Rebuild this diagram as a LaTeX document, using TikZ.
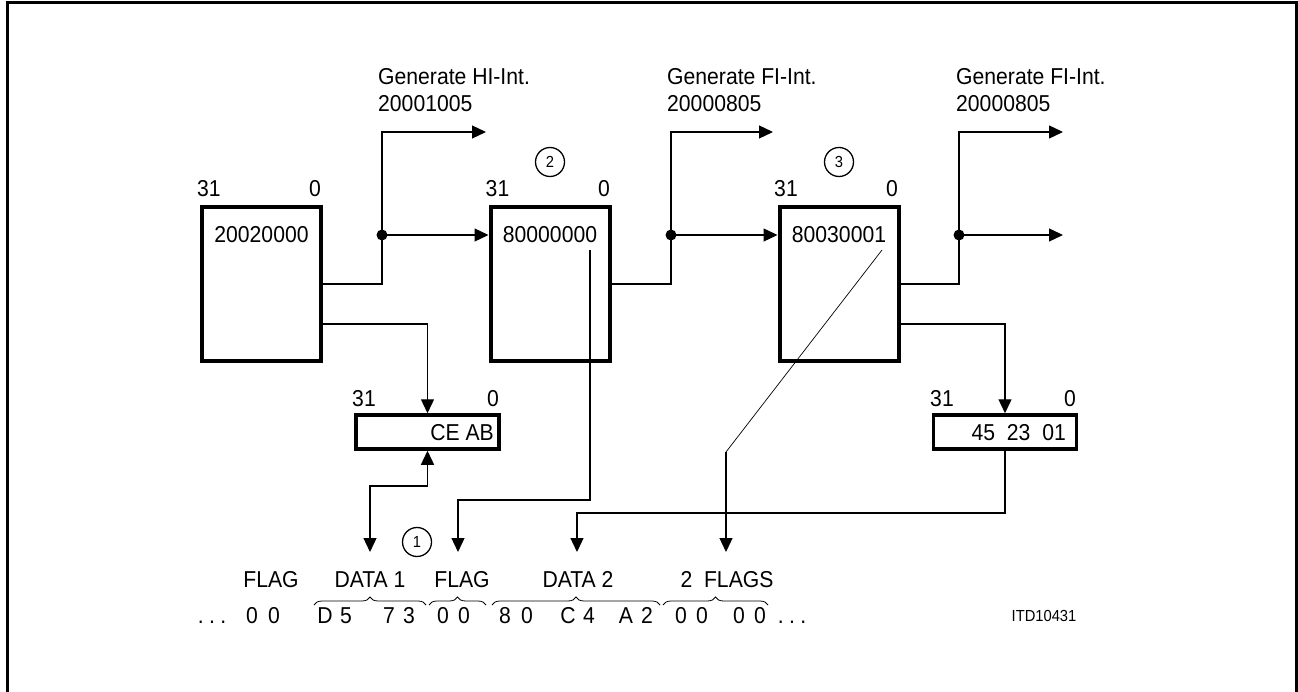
\documentclass[tikz,border=0pt]{standalone}
\usepackage{fontspec}
\newfontfamily\narrowf{Liberation Sans}[FakeStretch=0.92]
\usetikzlibrary{arrows.meta,decorations.pathreplacing}
\tikzset{
  bigreg/.style={draw, line width=4pt, inner sep=0pt, minimum width=119pt, minimum height=154pt},
  smallreg/.style={draw, line width=3.5pt, inner sep=0pt, minimum width=143pt, minimum height=34pt},
  txt/.style={inner sep=0pt, anchor=base},
  conn/.style={line width=1.3pt},
  tip/.tip={Triangle[length=14pt,width=13pt]},
  arr/.style={conn, -tip},
  dot/.style={circle, fill, inner sep=0pt, minimum size=11pt},
  num/.style={circle, draw, line width=1.3pt, minimum size=29pt, inner sep=0pt, font=\narrowf\fontsize{16}{18}\selectfont},
  brc/.style={decorate, decoration={brace, amplitude=8pt}, line width=0.8pt},
}
\begin{document}
\begin{tikzpicture}[x=1pt, y=-1pt, font=\narrowf\fontsize{23}{27}\selectfont]
\useasboundingbox (0,0) rectangle (1298,692);
% frame
\draw[line width=3pt] (7,692) -- (7,3) -- (1296.5,3) -- (1296.5,692);

% big registers
\node[bigreg] (A) at (261.5,284) {};
\node[bigreg] (B) at (550,284) {};
\node[bigreg] (C) at (839,284) {};
\node[txt] (At) at (261.5,243) {20020000};
\node[txt] (Bt) at (550,243) {80000000};
\node[txt] (Ct) at (839,243) {80030001};
\node[txt] (A31) at (209,197) {31};
\node[txt] (A0) at (315,197) {0};
\node[txt] (B31) at (497.5,197) {31};
\node[txt] (B0) at (604,197) {0};
\node[txt] (C31) at (786,197) {31};
\node[txt] (C0) at (892,197) {0};

% small registers
\node[smallreg] (D) at (427.5,432) {};
\node[smallreg] (E) at (1005,432) {};
\node[txt, anchor=base east] (Dt) at (494,440) {CE AB};
\node[txt, anchor=base east] (Et) at (1066,440) {45~~23~~01};
\node[txt] (D31) at (364,406) {31};
\node[txt] (D0) at (493,406) {0};
\node[txt] (E31) at (942,406) {31};
\node[txt] (E0) at (1070,406) {0};

% circled numbers
\node[num] (n1) at (417,542) {1};
\node[num] (n2) at (550,162) {2};
\node[num] (n3) at (839,162) {3};

% generate labels
\node[txt, anchor=base west] (g1a) at (378,85) {Generate HI-Int.};
\node[txt, anchor=base west] (g1b) at (378,112) {20001005};
\node[txt, anchor=base west] (g2a) at (667,85) {Generate FI-Int.};
\node[txt, anchor=base west] (g2b) at (667,112) {20000805};
\node[txt, anchor=base west] (g3a) at (956,85) {Generate FI-Int.};
\node[txt, anchor=base west] (g3b) at (956,112) {20000805};

% dots and free ends
\node[dot] (dA) at (382,235) {};
\node[dot] (dB) at (671,235) {};
\node[dot] (dC) at (959,235) {};
\coordinate (hA) at (486,132);
\coordinate (hB) at (773,132);
\coordinate (hC) at (1063,132);
\coordinate (oC) at (1063,235);

% connectors from registers
\draw[conn] (A.east) -| (dA.center);
\draw[arr] (dA.center) |- (hA);
\draw[arr] (dA.center) -- (dA -| B.west);
\draw[arr] ([yshift=-40pt]A.east) -| (D.north);

\draw[conn] (B.east) -| (dB.center);
\draw[arr] (dB.center) |- (hB);
\draw[arr] (dB.center) -- (dB -| C.west);

\draw[conn] (C.east) -| (dC.center);
\draw[arr] (dC.center) |- (hC);
\draw[arr] (dC.center) -- (oC);
\draw[arr] ([yshift=-40pt]C.east) -| (E.north);

% lines to the byte stream
\coordinate (k1) at (370,486);
\coordinate (t1) at (370,552);
\draw[conn, tip-tip] (D.south) |- (k1) -- (t1);

\coordinate (b1) at (590,250);
\coordinate (k2) at (458,500);
\coordinate (t2) at (458,552);
\draw[arr] (b1) |- (k2) -- (t2);

\coordinate (k3) at (577,513);
\coordinate (t3) at (577,552);
\draw[arr] (E.south) |- (k3) -- (t3);

\coordinate (c1) at (882,250);
\coordinate (c2) at (726,452);
\coordinate (t4) at (726,552);
\draw[line width=0.7pt] (c1) -- (c2);
\draw[arr] (c2) -- (t4);

% stream labels
\node[txt] (L1) at (271,587) {FLAG};
\node[txt] (L2) at (370,587) {DATA 1};
\node[txt] (L3) at (462,587) {FLAG};
\node[txt] (L4) at (578,587) {DATA 2};
\node[txt] (L5) at (727,587) {2~~FLAGS};

% braces
\draw[brc] (314,605) -- (426,605);
\draw[brc] (429,605) -- (486,605);
\draw[brc] (492,605) -- (660,605);
\draw[brc] (663,605) -- (768,605);

% byte stream
\node[txt] (s0) at (212,623) {.\hspace{5.4pt}.\hspace{5.4pt}.};
\foreach \x/\c [count=\i] in {252/0,274/0,325/D,346/5,389/7,409/3,443/0,464/0,505/8,527/0,568/C,589/4,626/A,647/2,681/0,702/0,739/0,760/0}
  \node[txt] (s\i) at (\x,623) {\c};
\node[txt] (s19) at (792,623) {.\hspace{5.4pt}.\hspace{5.4pt}.};

\node[txt, font=\narrowf\fontsize{16}{18}\selectfont] (itd) at (1044,621) {ITD10431};
\end{tikzpicture}
\end{document}
